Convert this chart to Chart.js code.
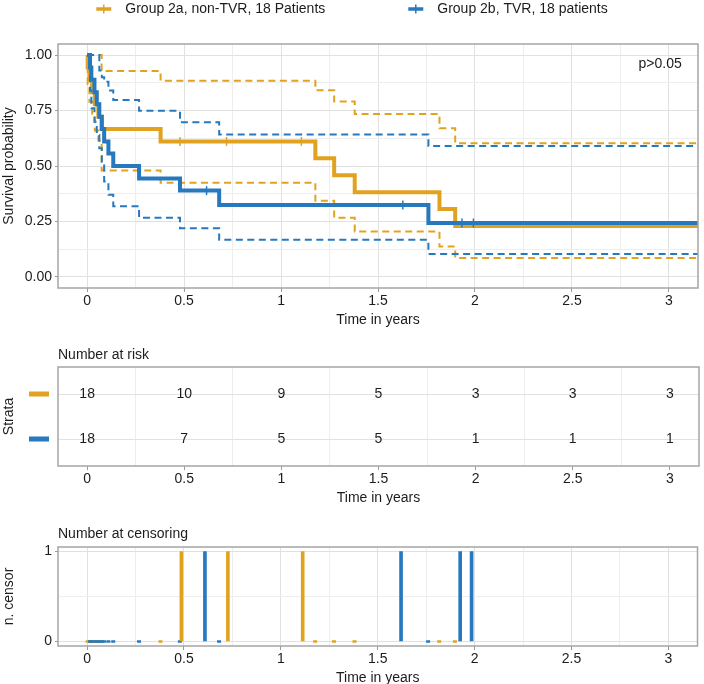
<!DOCTYPE html>
<html>
<head>
<meta charset="utf-8">
<script src="https://cdn.jsdelivr.net/npm/chart.js@4"></script>
<style>
  html, body { margin: 0; padding: 0; background: #fff; overflow: hidden; }
  body { width: 704px; height: 684px; position: relative; }
  canvas { position: absolute; left: 0; }
  #km { top: 0; }
  #risk { top: 330px; }
  #cens { top: 508px; }
</style>
</head>
<body>
<canvas id="km" width="704" height="330"></canvas>
<canvas id="risk" width="704" height="178"></canvas>
<canvas id="cens" width="704" height="180"></canvas>
<script>
"use strict";

// ── Data ────────────────────────────────────────────────────────────────
const GROUP_LABELS = ["Group 2a, non-TVR, 18 Patients", "Group 2b, TVR, 18 patients"];
const TIME_TICKS = [0, 0.5, 1, 1.5, 2, 2.5, 3];
const TIME_GRID = [0, 0.25, 0.5, 0.75, 1, 1.25, 1.5, 1.75, 2, 2.25, 2.5, 2.75, 3];
const SURV_TICKS = [0, 0.25, 0.5, 0.75, 1];
const SURV_GRID = [0, 0.125, 0.25, 0.375, 0.5, 0.625, 0.75, 0.875, 1];
const X_MIN = -0.15, X_MAX = 3.15;

// group 2a (non-TVR): step times, survival, confidence band
const aTimes = [0, 0.003, 0.012, 0.026, 0.04, 0.058, 0.075, 0.379, 1.177, 1.274, 1.38, 1.817, 1.898];
const aSurv  = [1, 0.944, 0.889, 0.833, 0.778, 0.722, 0.667, 0.611, 0.535, 0.458, 0.382, 0.306, 0.229];
const aUpper = [1, 1, 1, 1, 1, 1, 0.928, 0.884, 0.842, 0.791, 0.734, 0.670, 0.603];
const aLower = [1, 0.87, 0.79, 0.72, 0.66, 0.615, 0.48, 0.425, 0.343, 0.267, 0.205, 0.137, 0.085];
const aCensorTimes = [0.479, 0.719, 1.105];
const aCensorCounts = [1, 1, 1];

// group 2b (TVR)
const bTimes = [0, 0.015, 0.022, 0.038, 0.05, 0.063, 0.076, 0.088, 0.11, 0.135, 0.268, 0.479, 0.681, 1.76];
const bSurv  = [1, 0.944, 0.889, 0.833, 0.778, 0.722, 0.667, 0.611, 0.556, 0.5, 0.444, 0.389, 0.324, 0.243];
const bUpper = [1, 1, 1, 1, 1, 0.93, 0.90, 0.88, 0.84, 0.797, 0.749, 0.697, 0.642, 0.59];
const bLower = [1, 0.84, 0.76, 0.70, 0.64, 0.58, 0.52, 0.43, 0.37, 0.319, 0.267, 0.219, 0.167, 0.103];
const bCensorTimes = [0.616, 1.628, 1.933, 1.992];
const bCensorCounts = [1, 1, 1, 1];

// number at risk at TIME_TICKS
const aRisk = [18, 10, 9, 5, 3, 3, 3];
const bRisk = [18, 7, 5, 5, 1, 1, 1];

const PVAL_TEXT = "p>0.05";
const PVAL_AT = { x: 2.955, y: 0.958 };

// ── Style ───────────────────────────────────────────────────────────────
const ORANGE = "#E1A31F", BLUE = "#2679BE";
const GRID_MAJOR = "#e1e1e1", GRID_MINOR = "#eeeeee", FRAME = "#a5a5a5", TICK = "#9a9a9a";
const FONT = "'Liberation Sans', Arial, Helvetica, sans-serif";
const TXT = "#1c1c1c";
Chart.defaults.font.family = FONT;
Chart.defaults.font.size = 14;
Chart.defaults.color = TXT;

const toPts = (xs, ys) => xs.map((x, i) => ({ x, y: ys[i] }));
const withEnd = (xs, ys) => [...toPts(xs, ys), { x: X_MAX, y: ys[ys.length - 1] }];
const survAt = (xs, ys, t) => { let v = ys[0]; xs.forEach((x, i) => { if (x <= t) v = ys[i]; }); return v; };
const isIn = (arr, v) => arr.some((a) => Math.abs(a - v) < 1e-9);
const setTicks = (vals) => (scale) => { scale.ticks = vals.map((v) => ({ value: v })); };
const fixWidth = (scale) => { scale.width = 58; };

// ── Plugins ─────────────────────────────────────────────────────────────
const framePlugin = {
  id: "frame",
  afterDraw(chart) {
    const { ctx, chartArea: a } = chart;
    ctx.save();
    ctx.strokeStyle = FRAME;
    ctx.lineWidth = 1.5;
    ctx.strokeRect(a.left, a.top, a.right - a.left, a.bottom - a.top);
    ctx.restore();
  },
};

const textAt = (ctx, text, x, y, align = "left") => {
  ctx.save();
  ctx.font = "14px " + FONT;
  ctx.fillStyle = TXT;
  ctx.textAlign = align;
  ctx.textBaseline = "middle";
  ctx.fillText(text, x, y);
  ctx.restore();
};

const legendPlugin = {
  id: "kmLegend",
  afterDraw(chart) {
    const ctx = chart.ctx;
    ctx.save();
    ctx.font = "14px " + FONT;
    const sym = 15, gapText = 14, gapItem = 83, y = 9;
    const widths = GROUP_LABELS.map((t) => ctx.measureText(t).width);
    const total = widths.reduce((s, w) => s + sym + gapText + w, 0) + gapItem * (GROUP_LABELS.length - 1);
    let x = (chart.width - total) / 2;
    [ORANGE, BLUE].forEach((col, i) => {
      ctx.strokeStyle = col;
      ctx.lineWidth = 3.5;
      ctx.beginPath(); ctx.moveTo(x, y); ctx.lineTo(x + sym, y); ctx.stroke();
      ctx.lineWidth = 1.5;
      ctx.beginPath(); ctx.moveTo(x + sym / 2, y - 4.5); ctx.lineTo(x + sym / 2, y + 4.5); ctx.stroke();
      textAt(ctx, GROUP_LABELS[i], x + sym + gapText, y);
      x += sym + gapText + widths[i] + gapItem;
    });
    ctx.restore();
  },
};

const pvalPlugin = {
  id: "pval",
  afterDraw(chart) {
    const { x, y } = chart.scales;
    textAt(chart.ctx, PVAL_TEXT, x.getPixelForValue(PVAL_AT.x), y.getPixelForValue(PVAL_AT.y), "center");
  },
};

const riskPlugin = {
  id: "riskText",
  afterDraw(chart) {
    const { ctx, scales: { x, y } } = chart;
    textAt(ctx, "Number at risk", chart.chartArea.left, 25);
    [[aRisk, 2, ORANGE], [bRisk, 1, BLUE]].forEach(([counts, row, col]) => {
      const py = y.getPixelForValue(row);
      counts.forEach((n, i) => textAt(ctx, String(n), x.getPixelForValue(TIME_TICKS[i]), py, "center"));
      ctx.save();
      ctx.fillStyle = col;
      ctx.fillRect(29, py - 2.5, 20, 5);
      ctx.restore();
    });
  },
};

const censTitlePlugin = {
  id: "censTitle",
  afterDraw(chart) { textAt(chart.ctx, "Number at censoring", chart.chartArea.left, 26); },
};

// ── Shared axis pieces ──────────────────────────────────────────────────
const xAxis = (gridColor) => ({
  type: "linear",
  min: X_MIN, max: X_MAX,
  offset: false,
  afterBuildTicks: setTicks(TIME_GRID),
  ticks: {
    color: TXT, padding: 1, maxRotation: 0, autoSkip: false,
    callback: (v) => (isIn(TIME_TICKS, v) ? String(v) : ""),
  },
  grid: {
    offset: false,
    color: gridColor,
    tickColor: (c) => (c.tick && isIn(TIME_TICKS, c.tick.value) ? TICK : "transparent"),
    tickLength: 4,
  },
  border: { display: false },
  title: { display: true, text: "Time in years", color: TXT, padding: { top: 1, bottom: 0 } },
});
const majorMinor = (majors) => (c) => (c.tick && isIn(majors, c.tick.value) ? GRID_MAJOR : GRID_MINOR);

// ── Survival curves ────────────────────────────────────────────────────
const lineSet = (label, data, color, dashed, order) => ({
  type: "line", label, data, order,
  borderColor: color, backgroundColor: color,
  borderWidth: dashed ? 2 : 4,
  borderDash: dashed ? [7, 4.5] : [],
  stepped: true, pointRadius: 0, fill: false,
});
const censorMarks = (times, xs, ys, color, order) => ({
  type: "scatter", order,
  data: times.map((t) => ({ x: t, y: survAt(xs, ys, t) })),
  pointStyle: "line", rotation: 90, radius: 4.5, borderWidth: 1.5,
  borderColor: color, backgroundColor: color,
});

new Chart(document.getElementById("km"), {
  type: "scatter",
  data: {
    datasets: [
      lineSet("a upper", withEnd(aTimes, aUpper), ORANGE, true, 2),
      lineSet("a lower", withEnd(aTimes, aLower), ORANGE, true, 2),
      lineSet(GROUP_LABELS[0], withEnd(aTimes, aSurv), ORANGE, false, 2),
      censorMarks(aCensorTimes, aTimes, aSurv, ORANGE, 2),
      lineSet("b upper", withEnd(bTimes, bUpper), BLUE, true, 1),
      lineSet("b lower", withEnd(bTimes, bLower), BLUE, true, 1),
      lineSet(GROUP_LABELS[1], withEnd(bTimes, bSurv), BLUE, false, 1),
      censorMarks(bCensorTimes, bTimes, bSurv, BLUE, 1),
    ],
  },
  options: {
    responsive: false, animation: false, devicePixelRatio: 1,
    layout: { padding: { top: 44, right: 5, left: 0, bottom: 1.4 } },
    plugins: { legend: { display: false }, tooltip: { enabled: false } },
    scales: {
      x: { ...xAxis(majorMinor(TIME_TICKS)) },
      y: {
        type: "linear", min: -0.05, max: 1.05,
        afterBuildTicks: setTicks(SURV_GRID),
        afterFit: fixWidth,
        ticks: {
          color: TXT, padding: 3, autoSkip: false,
          callback: (v) => (isIn(SURV_TICKS, v) ? v.toFixed(2) : ""),
        },
        grid: {
          color: majorMinor(SURV_TICKS),
          tickColor: (c) => (c.tick && isIn(SURV_TICKS, c.tick.value) ? TICK : "transparent"),
          tickLength: 3,
        },
        border: { display: false },
        title: { display: true, text: "Survival probability", color: TXT, padding: { top: 1, bottom: 0 } },
      },
    },
  },
  plugins: [framePlugin, legendPlugin, pvalPlugin],
});

// ── Number at risk table ───────────────────────────────────────────────
new Chart(document.getElementById("risk"), {
  type: "scatter",
  data: { datasets: [] },
  options: {
    responsive: false, animation: false, devicePixelRatio: 1,
    layout: { padding: { top: 37, right: 5, left: 0, bottom: 1.4 } },
    plugins: { legend: { display: false }, tooltip: { enabled: false } },
    scales: {
      x: { ...xAxis((c) => (c.tick && isIn(TIME_TICKS, c.tick.value) ? "transparent" : GRID_MINOR)) },
      y: {
        type: "linear", min: 0.4, max: 2.6,
        afterBuildTicks: setTicks([1, 2]),
        afterFit: fixWidth,
        ticks: { display: false },
        grid: { color: GRID_MAJOR, tickLength: 0 },
        border: { display: false },
        title: { display: true, text: "Strata", color: TXT, padding: { top: 1, bottom: 0 } },
      },
    },
  },
  plugins: [framePlugin, riskPlugin],
});

// ── Number at censoring ────────────────────────────────────────────────
const zeroMarks = (times, color) => ({
  type: "scatter",
  data: times.map((t) => ({ x: t, y: 0 })),
  pointStyle: "line", radius: 2, borderWidth: 2.5,
  borderColor: color, backgroundColor: color,
});
const censorBars = (times, counts, color) => ({
  type: "bar",
  data: toPts(times, counts),
  barThickness: 3, backgroundColor: color, borderWidth: 0,
});

new Chart(document.getElementById("cens"), {
  type: "scatter",
  data: {
    datasets: [
      censorBars(bCensorTimes, bCensorCounts, BLUE),
      censorBars(aCensorTimes, aCensorCounts, ORANGE),
      zeroMarks(bTimes.slice(1), BLUE),
      zeroMarks(aTimes.slice(1), ORANGE),
    ],
  },
  options: {
    responsive: false, animation: false, devicePixelRatio: 1,
    layout: { padding: { top: 39, right: 5, left: 0, bottom: 1.4 } },
    plugins: { legend: { display: false }, tooltip: { enabled: false } },
    scales: {
      x: { ...xAxis(majorMinor(TIME_TICKS)) },
      y: {
        type: "linear", min: -0.05, max: 1.05,
        afterBuildTicks: setTicks([0, 0.5, 1]),
        afterFit: fixWidth,
        ticks: { color: TXT, padding: 3, callback: (v) => (v === 0.5 ? "" : String(v)) },
        grid: {
          color: majorMinor([0, 1]),
          tickColor: (c) => (c.tick && c.tick.value !== 0.5 ? TICK : "transparent"),
          tickLength: 3,
        },
        border: { display: false },
        title: { display: true, text: "n. censor", color: TXT, padding: { top: 1, bottom: 0 } },
      },
    },
  },
  plugins: [framePlugin, censTitlePlugin],
});
</script>
</body>
</html>
